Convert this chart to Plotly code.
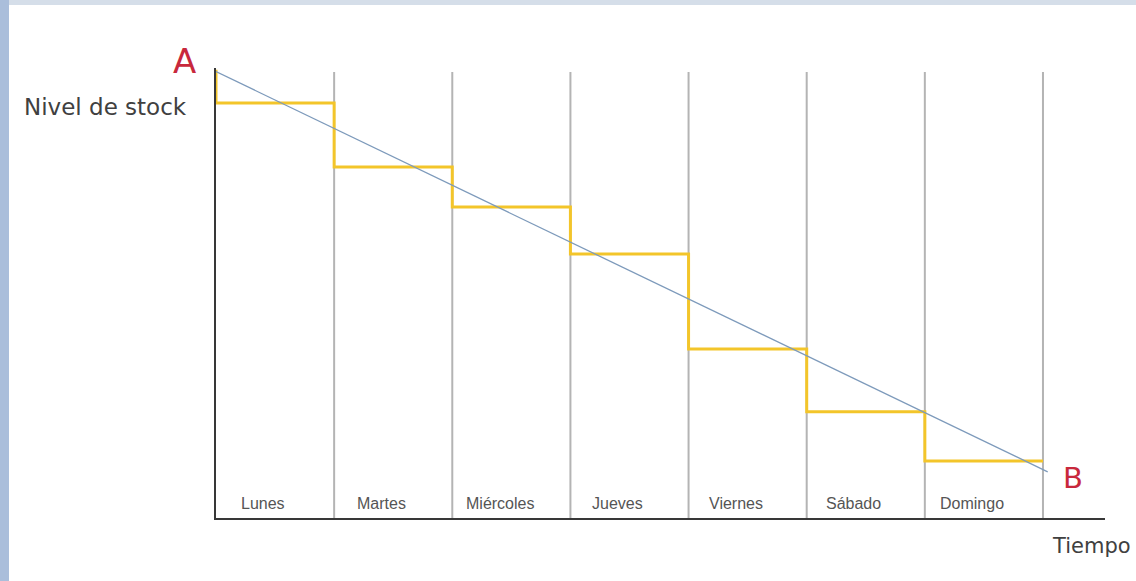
import plotly.graph_objects as go

# ---- data ----
days = ["Lunes", "Martes", "Miércoles", "Jueves", "Viernes", "Sábado", "Domingo"]
start_level = 100.0
stock_levels = [92.6, 78.3, 69.4, 58.9, 37.7, 23.7, 12.7]
trend_x = [0.0, 7.04]
trend_y = [99.6, 10.3]
grid_top = 99.5

W, H = 1136, 581
ML, MR, MT, MB = 216, 31, 68, 63
XMAX = 7.525
YMAX = 100.4

fig = go.Figure()

# day separators
gx, gy = [], []
for i in range(1, len(days) + 1):
    gx += [i, i, None]
    gy += [0, grid_top, None]
fig.add_trace(go.Scatter(x=gx, y=gy, mode="lines",
                         line=dict(color="#b4b4b4", width=2),
                         hoverinfo="skip", showlegend=False))

# stock step line
sx = [0] + list(range(len(days) + 1))
sy = [start_level] + stock_levels + [stock_levels[-1]]
fig.add_trace(go.Scatter(x=sx, y=sy, mode="lines", line_shape="hv",
                         line=dict(color="#f3c52a", width=3),
                         hoverinfo="skip", showlegend=False))

# trend line
fig.add_trace(go.Scatter(x=trend_x, y=trend_y, mode="lines",
                         line=dict(color="#7d9abb", width=1.3),
                         hoverinfo="skip", showlegend=False))

annotations = []
for i, d in enumerate(days):
    annotations.append(dict(x=i + 0.4, y=3.2, xref="x", yref="y", text=d,
                            showarrow=False, xanchor="center", yanchor="middle",
                            font=dict(family="Liberation Sans", size=16, color="#555555")))

def px2paper(px, py):
    return (px - ML) / (W - ML - MR), (H - MB - py) / (H - MT - MB)

for text, (px, py), size, color in [
    ("Nivel de stock", (105, 107), 23, "#404040"),
    ("Tiempo", (1091, 546), 21, "#404040"),
    ("A", (184, 61), 34, "#c8283c"),
    ("B", (1073, 478), 29, "#c8283c"),
]:
    xp, yp = px2paper(px, py)
    annotations.append(dict(x=xp, y=yp, xref="paper", yref="paper", text=text,
                            showarrow=False, xanchor="center", yanchor="middle",
                            font=dict(family="DejaVu Sans", size=size, color=color)))

# slide frame bands
lx0, _ = px2paper(0, 0)
lx1, _ = px2paper(9, 0)
rx, _ = px2paper(W, 0)
_, ty0 = px2paper(0, 0)
_, ty1 = px2paper(0, 5)
shapes = [
    dict(type="rect", xref="paper", yref="paper", x0=lx0, x1=rx, y0=ty1, y1=ty0,
         fillcolor="#d5dee9", line=dict(width=0), layer="below"),
    dict(type="rect", xref="paper", yref="paper", x0=lx0, x1=lx1, y0=px2paper(0, H)[1], y1=ty0,
         fillcolor="#aabedb", line=dict(width=0), layer="below"),
]

fig.update_layout(
    width=W, height=H,
    margin=dict(l=ML, r=MR, t=MT, b=MB),
    paper_bgcolor="white", plot_bgcolor="white",
    xaxis=dict(range=[0, XMAX], showgrid=False, zeroline=False, showticklabels=False,
               ticks="", showline=True, linecolor="#383838", linewidth=2, fixedrange=True),
    yaxis=dict(range=[0, YMAX], showgrid=False, zeroline=False, showticklabels=False,
               ticks="", showline=True, linecolor="#383838", linewidth=2, fixedrange=True),
    annotations=annotations,
    shapes=shapes,
    showlegend=False,
)

fig.write_html("out.html",
               config={"displayModeBar": False},
               post_script="document.body.style.margin='0';document.body.style.overflow='hidden';")
